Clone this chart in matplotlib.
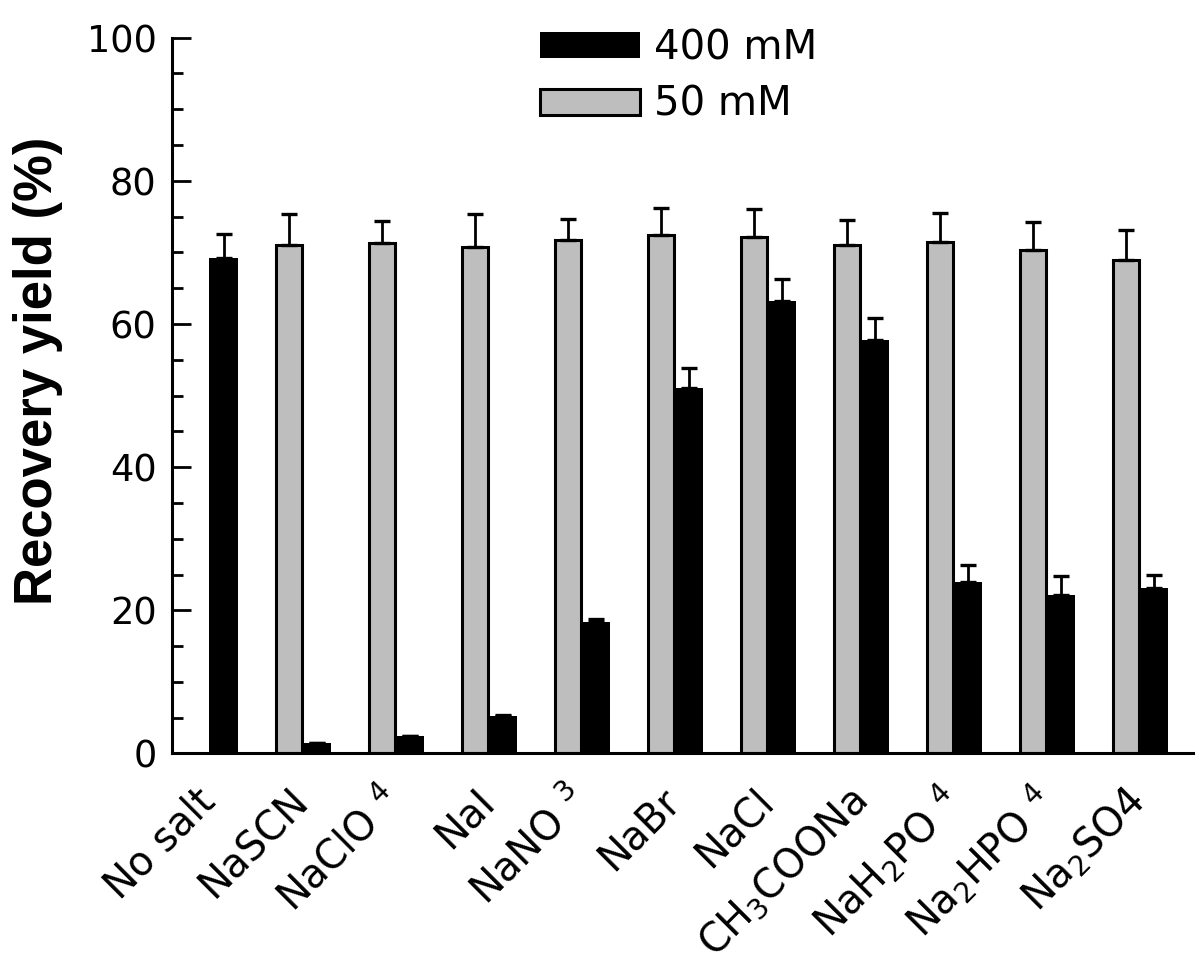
import matplotlib
matplotlib.use("Agg")
import matplotlib.pyplot as plt
import matplotlib.patches as mpatches
from matplotlib.ticker import MultipleLocator
import numpy as np

# salts on the x axis
salts = ['No salt', 'NaSCN', r'NaClO$\ ^{4}$', 'NaI', r'NaNO$\ ^{3}$', 'NaBr', 'NaCl',
         r'CH$_3$COONa', r'NaH$_2$PO$\ ^{4}$', r'Na$_2$HPO$\ ^{4}$', r'Na$_2$SO4']

# recovery yield (%) at 50 mM salt (no value for "No salt")
yield_50 = [np.nan, 71.1, 71.3, 70.7, 71.8, 72.5, 72.1, 71.1, 71.4, 70.4, 68.9]
err_50 = [0, 4.3, 3.1, 4.6, 2.9, 3.7, 4.0, 3.4, 4.1, 3.8, 4.2]

# recovery yield (%) at 400 mM salt
yield_400 = [69.2, 1.5, 2.4, 5.2, 18.3, 51.0, 63.2, 57.7, 24.0, 22.2, 23.1]
err_400 = [3.4, 0, 0, 0.2, 0.5, 2.8, 3.1, 3.2, 2.4, 2.6, 1.9]

plt.rcParams['font.family'] = 'DejaVu Sans'
plt.rcParams['mathtext.fontset'] = 'dejavusans'

fig = plt.figure(figsize=(12, 9.74), dpi=100)
ax = fig.add_axes([0.1433, 0.2264, 0.9942 - 0.1433, 0.9613 - 0.2264])

x = np.arange(len(salts))
gray = '#bebebe'

# 50 mM on the left of each slot, 400 mM on the right
ax.bar(x, yield_50, width=-0.28, align='edge', color=gray, edgecolor='black', linewidth=2.2)
ax.errorbar(x - 0.14, yield_50, yerr=[np.zeros(len(x)), err_50], fmt='none',
            ecolor='black', elinewidth=2.0, capsize=6, capthick=2.4)
ax.bar(x, yield_400, width=0.31, align='edge', color='black', edgecolor='black', linewidth=0)
ax.errorbar(x + 0.155, yield_400, yerr=[np.zeros(len(x)), err_400], fmt='none',
            ecolor='black', elinewidth=2.0, capsize=6, capthick=2.4)

ax.set_xlim(-0.40, 10.58)
ax.set_ylim(0, 100)
ax.yaxis.set_major_locator(MultipleLocator(20))
ax.yaxis.set_minor_locator(MultipleLocator(5))
ax.tick_params(axis='y', which='major', direction='in', length=14, width=2.0,
               labelsize=26.5, pad=11)
ax.tick_params(axis='y', which='minor', direction='in', length=8, width=2.0)
ax.tick_params(axis='x', length=0, pad=30)

ax.set_xticks(x)
ax.set_xticklabels(salts, rotation=45, ha='right', va='center',
                   rotation_mode='anchor', fontsize=28.5)

for side in ['top', 'right']:
    ax.spines[side].set_visible(False)
for side in ['left', 'bottom']:
    ax.spines[side].set_linewidth(2.2)

fig.text(38 / 1200, 1 - 371 / 974, 'Recovery yield (%)', rotation=90,
         ha='center', va='center', fontsize=38, fontweight='bold',
         family='Liberation Sans')

handles = [mpatches.Patch(facecolor='black', edgecolor='black', linewidth=0),
           mpatches.Patch(facecolor=gray, edgecolor='black', linewidth=2.2)]
fig.legend(handles, ['400 mM', '50 mM'], loc='upper left',
           bbox_to_anchor=(540 / 1200, 1 - 28 / 974), frameon=False,
           fontsize=29, borderpad=0, borderaxespad=0,
           handlelength=2.48, handleheight=0.62, handletextpad=0.36,
           labelspacing=0.42)

fig.savefig('out.png', dpi=100)
